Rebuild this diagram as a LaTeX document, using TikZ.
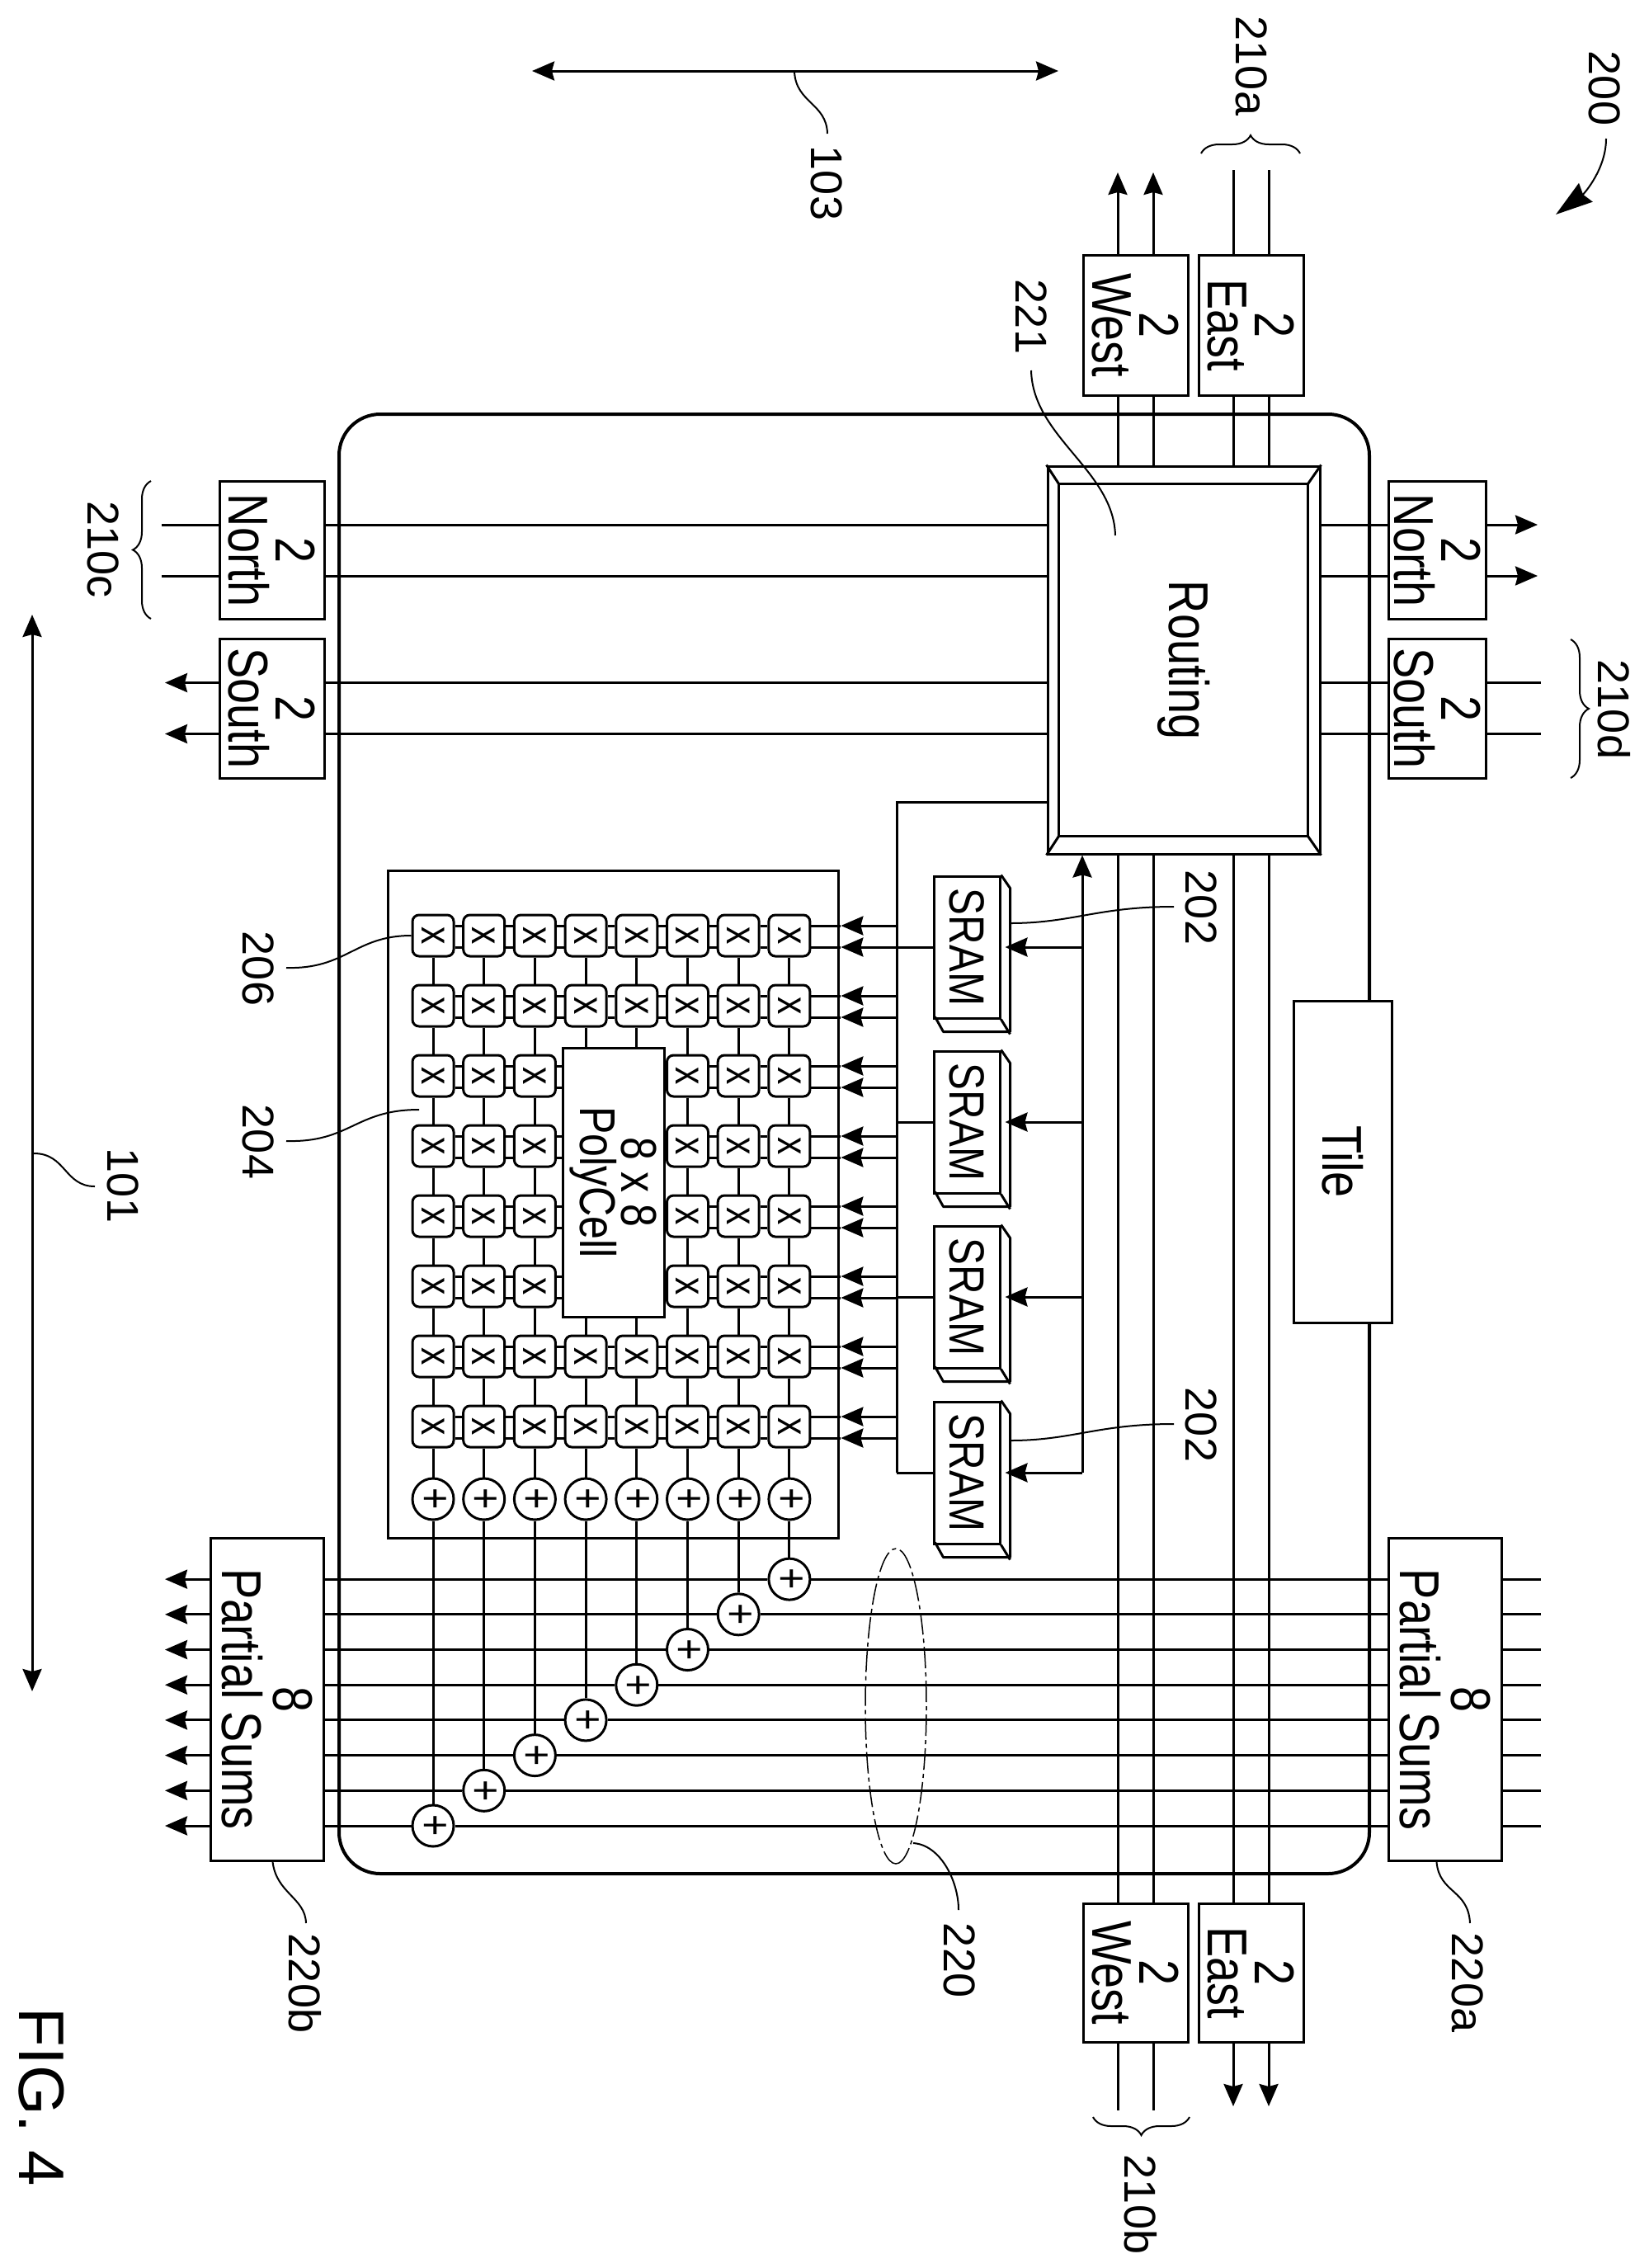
\documentclass[tikz,border=0pt]{standalone}
\usepackage{fontspec}
\setmainfont{Liberation Sans}
\newfontfamily\boxfont[FakeStretch=0.82]{Liberation Sans}
\usetikzlibrary{arrows.meta}
\usetikzlibrary{decorations.pathreplacing}
\tikzset{
	wire/.style={line width=3pt},
	leader/.style={line width=2pt},
	curly/.style={line width=2pt, decorate, decoration={brace, amplitude=22pt}},
	blk/.style={draw, fill=white, line width=3pt, inner sep=0pt, align=center, font=\boxfont\fontsize{68}{57}\selectfont},
	cell/.style={draw, fill=white, line width=3pt, rounded corners=8pt, inner sep=0pt, minimum size=50pt, font=\boxfont\fontsize{52}{52}\selectfont},
	adder/.style={draw, fill=white, circle, line width=3pt, inner sep=0pt, minimum size=50pt, font=\boxfont\fontsize{55}{55}\selectfont},
	tag/.style={inner sep=0pt, font=\fontsize{54}{54}\selectfont}
}
\begin{document}
\begin{tikzpicture}[x=1pt, y=1pt, rotate=-90, transform shape, >={Stealth[length=27pt, width=23pt, inset=3pt]}]
	\useasboundingbox (0,0) rectangle (2749,1998);
	\node [draw, line width=4pt, rounded corners=50pt, minimum width=1769pt, minimum height=1249pt] (frame) at (1386.5,1035.5) {};
	\node [draw, line width=3pt, minimum width=809pt, minimum height=546pt] (grid) at (1459.5,743) {};
	\node [blk, minimum width=390pt, minimum height=119pt] (tiletag) at (1408,1627.5) {Tile};
	\node [blk, minimum width=470pt, minimum height=330pt] (routing) at (800,1435) {Routing};
	\draw [wire] ([shift={(23,15)}]routing.south west) rectangle ([shift={(-23,-16)}]routing.north east);
	\draw [wire] (routing.south west) --++ (23,15) (routing.south east) --++ (-23,15) (routing.north west) --++ (23,-16) (routing.north east) --++ (-23,-16);

	\node [blk, minimum width=170pt, minimum height=127pt] (westtop) at (394,1376.5) {2\\West};
	\node [blk, minimum width=170pt, minimum height=127pt] (easttop) at (394,1516.5) {2\\East};
	\node [blk, minimum width=168pt, minimum height=127pt] (westbot) at (2391,1376.5) {2\\West};
	\node [blk, minimum width=168pt, minimum height=127pt] (eastbot) at (2391,1516.5) {2\\East};
	\node [blk, minimum width=167pt, minimum height=127pt] (northleft) at (667,329.5) {2\\North};
	\node [blk, minimum width=169pt, minimum height=127pt] (southleft) at (858.5,329.5) {2\\South};
	\node [blk, minimum width=167pt, minimum height=118pt] (northright) at (667,1742) {2\\North};
	\node [blk, minimum width=169pt, minimum height=118pt] (southright) at (858.5,1742) {2\\South};
	\node [blk, minimum width=391pt, minimum height=137pt, font=\boxfont\fontsize{68}{62}\selectfont] (sumsleft) at (2059.5,323.5) {8\\Partial Sums};
	\node [blk, minimum width=391pt, minimum height=137pt, font=\boxfont\fontsize{68}{62}\selectfont] (sumsright) at (2060,1751.5) {8\\Partial Sums};
	\node [blk, minimum width=326pt, minimum height=123pt, font=\boxfont\fontsize{61}{50}\selectfont] (poly) at (1433,743.5) {8 x 8\\PolyCell};

	\coordinate (westtopend) at (209,1376.5);
	\coordinate (easttopend) at (206,1516.5);
	\coordinate (westbotend) at (2558,1376.5);
	\coordinate (eastbotend) at (2553,1516.5);
	\coordinate (northleftend) at (667,196);
	\coordinate (southleftend) at (858.5,200);
	\coordinate (northrightend) at (667,1864);
	\coordinate (southrightend) at (858.5,1868);
	\coordinate (sumsleftend) at (2060,200);
	\coordinate (sumsrightend) at (2060,1868);
	\coordinate (bustop) at (972,1087);
	\coordinate (busbot) at (1785,1087);
	\coordinate (backbot) at (1785,1312);

	\foreach \s in {-21.5,21.5} {
		\draw [wire, ->] ([yshift=\s pt]westtop.west) -- ([yshift=\s pt]westtopend);
		\draw [wire] ([yshift=\s pt]easttop.west) -- ([yshift=\s pt]easttopend);
		\draw [wire] ([yshift=\s pt]westtop.east) -- ([yshift=\s pt]westtop.east -| routing.west);
		\draw [wire] ([yshift=\s pt]easttop.east) -- ([yshift=\s pt]easttop.east -| routing.west);
		\draw [wire] ([yshift=\s pt]westbot.west -| routing.east) -- ([yshift=\s pt]westbot.west);
		\draw [wire] ([yshift=\s pt]eastbot.west -| routing.east) -- ([yshift=\s pt]eastbot.west);
		\draw [wire] ([yshift=\s pt]westbot.east) -- ([yshift=\s pt]westbotend);
		\draw [wire, ->] ([yshift=\s pt]eastbot.east) -- ([yshift=\s pt]eastbotend);
	}
	\foreach \s in {-31,31} {
		\draw [wire] ([xshift=\s pt]northleftend) -- ([xshift=\s pt]northleft.south);
		\draw [wire, ->] ([xshift=\s pt]southleft.south) -- ([xshift=\s pt]southleftend);
		\draw [wire] ([xshift=\s pt]northleft.north) -- ([xshift=\s pt]northleft.north |- routing.south);
		\draw [wire] ([xshift=\s pt]southleft.north) -- ([xshift=\s pt]southleft.north |- routing.south);
		\draw [wire] ([xshift=\s pt]northright.south |- routing.north) -- ([xshift=\s pt]northright.south);
		\draw [wire] ([xshift=\s pt]southright.south |- routing.north) -- ([xshift=\s pt]southright.south);
		\draw [wire, ->] ([xshift=\s pt]northright.north) -- ([xshift=\s pt]northrightend);
		\draw [wire] ([xshift=\s pt]southright.north) -- ([xshift=\s pt]southrightend);
	}

	\foreach \i/\x in {1/1148,2/1360,3/1572,4/1785} {
		\node [blk, minimum width=172pt, minimum height=80pt, font=\boxfont\fontsize{60}{60}\selectfont] (sram\i) at (\x,1172) {SRAM};
		\draw [wire, line join=round] (sram\i.north west) --++ (16,11) --++ (174,0) --++ (0,-81) --++ (-18,-10);
		\draw [wire] (sram\i.north east) --++ (18,11);
		\draw [wire] (bustop -| sram\i.south) -- (sram\i.south);
		\draw [wire, ->] (backbot -| sram\i.north) -- ([yshift=5pt]sram\i.north);
	}
	\draw [wire, line join=miter] (routing.south -| bustop) -- (bustop) -- (busbot);
	\draw [wire, ->] (backbot) -- (backbot -| routing.east);

	\foreach \r in {1,...,8} {
		\foreach \c in {1,...,8} {
			\pgfmathtruncatemacro{\hole}{and(\r>2,\r<7)*and(\c>3,\c<6)}
			\ifnum\hole=0
				\node [cell] (c-\r-\c) at ({1134+85*(\r-1)},{525+61.7*(\c-1)}) {x};
			\fi
		}
	}
	\foreach \c in {1,...,8} {
		\node [adder] (a-\c) at (1817,{525+61.7*(\c-1)}) {+};
		\node [adder] (d-\c) at ({2213-42.7*(\c-1)},{525+61.7*(\c-1)}) {+};
		\draw [wire] (c-8-\c.east) -- (a-\c.west);
		\draw [wire] (a-\c.east) -- (d-\c.west);
		\draw [wire] (sumsleft.north -| d-\c.center) -- (d-\c.south);
		\draw [wire] (d-\c.north) -- (sumsright.south -| d-\c.center);
		\draw [wire] (sumsright.north -| d-\c.center) -- (sumsrightend -| d-\c.center);
		\draw [wire, ->] (sumsleft.south -| d-\c.center) -- (sumsleftend -| d-\c.center);
	}
	\foreach \c in {1,2,3,6,7,8} {
		\foreach \r [evaluate=\r as \n using int(\r+1)] in {1,...,7} {
			\draw [wire] (c-\r-\c.east) -- (c-\n-\c.west);
		}
	}
	\foreach \c in {4,5} {
		\draw [wire] (c-1-\c.east) -- (c-2-\c.west);
		\draw [wire] (c-2-\c.east) -- (c-2-\c.east -| poly.west);
		\draw [wire] (c-7-\c.west -| poly.east) -- (c-7-\c.west);
		\draw [wire] (c-7-\c.east) -- (c-8-\c.west);
	}
	\foreach \s in {-12,14} {
		\foreach \r in {1,2,7,8} {
			\foreach \c [evaluate=\c as \n using int(\c+1)] in {1,...,7} {
				\draw [wire] ([xshift=\s pt]c-\r-\c.north) -- ([xshift=\s pt]c-\r-\n.south);
			}
		}
		\foreach \r in {3,...,6} {
			\foreach \c [evaluate=\c as \n using int(\c+1)] in {1,2,6,7} {
				\draw [wire] ([xshift=\s pt]c-\r-\c.north) -- ([xshift=\s pt]c-\r-\n.south);
			}
			\draw [wire] ([xshift=\s pt]c-\r-3.north) -- ([xshift=\s pt]c-\r-3.north |- poly.south);
			\draw [wire] ([xshift=\s pt]c-\r-6.south |- poly.north) -- ([xshift=\s pt]c-\r-6.south);
		}
		\foreach \r in {1,...,8} {
			\coordinate (tip) at ([xshift=\s pt, yshift=36pt]c-\r-8.north);
			\draw [wire, ->] (bustop -| tip) -- (tip);
			\draw [wire] (tip) -- ([xshift=\s pt]c-\r-8.north);
		}
	}

	\coordinate (arrowtwoa) at (86,645);
	\coordinate (arrowtwob) at (86,1283);
	\draw [wire, <->] (arrowtwoa) -- (arrowtwob);
	\coordinate (arrowonea) at (745,39);
	\coordinate (arrowoneb) at (2050,39);
	\draw [wire, <->] (arrowonea) -- (arrowoneb);

	\coordinate (bundle) at (2068,1086);
	\draw [line width=1.5pt, dash pattern=on 26pt off 5pt on 5pt off 5pt] (bundle) ellipse [x radius=191, y radius=37];

	\coordinate (bracea1) at (186,1456);
	\coordinate (bracea2) at (186,1576);
	\coordinate (braceb1) at (2566,1442);
	\coordinate (braceb2) at (2566,1325);
	\coordinate (bracec1) at (750,183);
	\coordinate (bracec2) at (583,183);
	\coordinate (braced1) at (775,1904);
	\coordinate (braced2) at (943,1904);
	\draw [curly] (bracea1) -- (bracea2);
	\draw [curly] (braceb1) -- (braceb2);
	\draw [curly] (bracec1) -- (bracec2);
	\draw [curly] (braced1) -- (braced2);

	\node [tag] (tag200) at (107,1945) {200};
	\node [tag] (tag210a) at (80,1517) {210a};
	\node [tag] (tag210b) at (2672,1383) {210b};
	\node [tag] (tag210c) at (666,125) {210c};
	\node [tag] (tag210d) at (860,1957) {210d};
	\node [tag] (tag220) at (2376,1163) {220};
	\node [tag] (tag220a) at (2403,1779) {220a};
	\node [tag] (tag220b) at (2404,370) {220b};
	\node [tag] (tag221) at (384,1250) {221};
	\node [tag] (tag103) at (222,1002) {103};
	\node [tag] (tag101) at (1437,149) {101};
	\node [tag] (tag206) at (1174,313) {206};
	\node [tag] (tag204) at (1384,313) {204};
	\node [tag] (tag202a) at (1100,1456) {202};
	\node [tag] (tag202b) at (1727,1456) {202};
	\node [inner sep=0pt, font=\fontsize{78}{78}\selectfont] (figure) at (2542,50) {FIG. 4};

	\coordinate (lead200) at (168,1947);
	\coordinate (lead200b) at (260,1886);
	\draw [leader, -{Stealth[length=45pt, width=28pt, inset=4pt]}] (lead200) .. controls (205,1947) and (235,1920) .. (lead200b);
	\coordinate (lead221) at (449,1250);
	\coordinate (lead221b) at (649,1352);
	\draw [leader] (lead221) .. controls (530,1252) and (570,1350) .. (lead221b);
	\coordinate (lead103) at (87,963);
	\coordinate (lead103b) at (162,1003);
	\draw [leader] (lead103) .. controls (125,965) and (125,1002) .. (lead103b);
	\coordinate (lead101) at (1398,41);
	\coordinate (lead101b) at (1438,115);
	\draw [leader] (lead101) .. controls (1398,80) and (1438,78) .. (lead101b);
	\coordinate (lead206) at (1173,347);
	\draw [leader] (lead206) .. controls (1175,420) and (1134,430) .. (c-1-1.south);
	\coordinate (lead204) at (1383,347);
	\coordinate (lead204b) at (1345,508);
	\draw [leader] (lead204) .. controls (1385,425) and (1345,430) .. (lead204b);
	\coordinate (lead202a) at (1099,1423);
	\draw [leader] ([xshift=-29pt, yshift=11pt]sram1.north) .. controls (1119,1300) and (1099,1330) .. (lead202a);
	\coordinate (lead202b) at (1726,1423);
	\draw [leader] ([xshift=-39pt, yshift=11pt]sram4.north) .. controls (1746,1300) and (1726,1330) .. (lead202b);
	\coordinate (lead220) at (2234,1107);
	\coordinate (lead220b) at (2315,1162);
	\draw [leader] (lead220) .. controls (2236,1140) and (2280,1162) .. (lead220b);
	\coordinate (lead220c) at (2331,1782);
	\draw [leader] ([yshift=-10pt]sumsright.east) .. controls (2295,1745) and (2290,1780) .. (lead220c);
	\coordinate (lead220d) at (2331,371);
	\draw [leader] ([yshift=7pt]sumsleft.east) .. controls (2295,335) and (2300,370) .. (lead220d);
\end{tikzpicture}
\end{document}
